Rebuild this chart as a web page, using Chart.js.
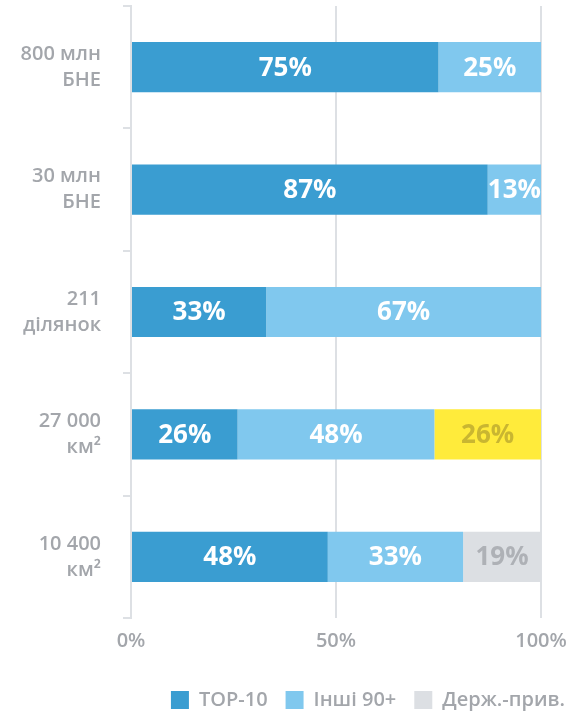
<!DOCTYPE html>
<html>
<head>
<meta charset="utf-8">
<script src="https://cdn.jsdelivr.net/npm/chart.js@4/dist/chart.umd.min.js"></script>
<style>
html,body{margin:0;padding:0;background:#fff;}
#wrap{width:575px;height:711px;position:relative;}
</style>
</head>
<body>
<div id="wrap"><canvas id="c"></canvas></div>
<script>
const categories = [["800 млн","БНЕ"],["30 млн","БНЕ"],["211","ділянок"],["27 000","км²"],["10 400","км²"]];
const top10 = [75, 87, 33, 26, 48];
const others = [25, 13, 67, 48, 33];
const stateOwned = [0, 0, 0, 26, 19];
const seriesNames = ["TOP-10", "Інші 90+", "Держ.-прив."];
const xTicks = [0, 50, 100];

const BLUE = '#3a9dd1';
const LIGHT = '#80c8ee';
const GREY = '#dcdfe3';
const YELLOW = '#ffeb3b';
const thirdColors = stateOwned.map((v,i)=> i===3 ? YELLOW : GREY);
const thirdLabelColors = stateOwned.map((v,i)=> i===3 ? '#c9b631' : '#aeb1b6');
const FONT = '"Open Sans"';

const labelPlugin = {
  id:'barLabels',
  afterDatasetsDraw(chart){
    const ctx = chart.ctx;
    chart.data.datasets.forEach((ds, di)=>{
      const meta = chart.getDatasetMeta(di);
      meta.data.forEach((bar, i)=>{
        const v = ds.data[i];
        if(!v) return;
        const x0 = Math.min(bar.x, bar.base), x1 = Math.max(bar.x, bar.base);
        ctx.save();
        ctx.font = '700 26px ' + FONT;
        ctx.textAlign='center';
        ctx.textBaseline='middle';
        ctx.fillStyle = ds.labelColors ? ds.labelColors[i] : '#ffffff';
        ctx.fillText(v + '%', (x0+x1)/2, bar.y+1);
        ctx.restore();
      });
    });
  }
};

new Chart(document.getElementById('c'), {
  type:'bar',
  data:{
    labels: categories,
    datasets:[
      {label: seriesNames[0], data: top10, backgroundColor:BLUE, borderWidth:0},
      {label: seriesNames[1], data: others, backgroundColor:LIGHT, borderWidth:0},
      {label: seriesNames[2], data: stateOwned, backgroundColor: thirdColors, borderWidth:0, labelColors: thirdLabelColors}
    ]
  },
  options:{
    indexAxis:'y',
    responsive:true,
    maintainAspectRatio:false,
    animation:false,
    barPercentage:0.41,
    categoryPercentage:1,
    layout:{padding:{top:6,right:-8,left:0,bottom:-9}},
    plugins:{
      tooltip:{enabled:false},
      legend:{
        position:'bottom',
        align:'end',
        labels:{
          boxWidth:18, boxHeight:18, padding:18,
          color:'#a3a6ab',
          font:{family:FONT, size:20, weight:'600'},
          generateLabels(chart){
            const cols = [BLUE, LIGHT, GREY];
            return chart.data.datasets.map((d,i)=>({text:d.label, fillStyle:cols[i], strokeStyle:cols[i], lineWidth:0, fontColor:'#a3a6ab', datasetIndex:i}));
          }
        }
      }
    },
    scales:{
      x:{
        stacked:true, min:0, max:100,
        afterBuildTicks(s){ s.ticks = xTicks.map(v=>({value:v})); },
        afterFit(s){ s.height = 54; s.paddingRight = 34; },
        grid:{color:'#dde0e4', lineWidth:2, drawTicks:false},
        border:{display:false},
        ticks:{padding:11, color:'#a3a6ab', font:{family:FONT, size:20, weight:'600'}, callback:v=>v+'%'}
      },
      y:{
        stacked:true,
        afterFit(s){ s.paddingTop = 0; s.paddingBottom = 0; s.width = 131; },
        grid:{drawOnChartArea:false, color:'#dde0e4', lineWidth:2, tickLength:8, offset:true},
        border:{display:true, color:'#dde0e4', width:2},
        ticks:{padding:22, color:'#a3a6ab', font:{family:FONT, size:20, weight:'600', lineHeight:1.3}}
      }
    }
  },
  plugins:[labelPlugin]
});
</script>
</body>
</html>
